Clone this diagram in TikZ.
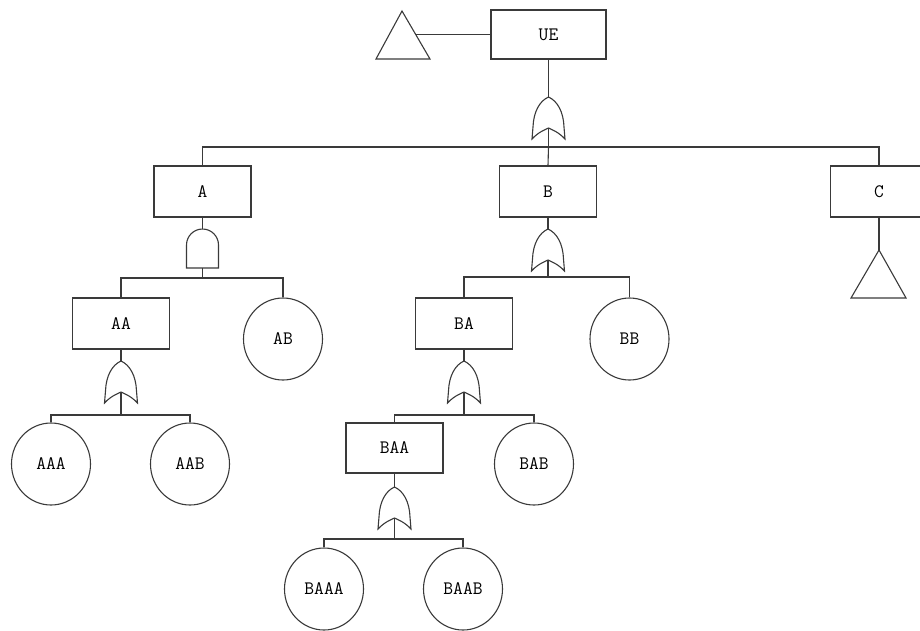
\documentclass[tikz,border=0pt]{standalone}
\usetikzlibrary{shapes.geometric}
\definecolor{ink}{HTML}{3A3A3A}
\tikzset{
  wire/.style={draw=ink, line width=1.1pt},
  lbl/.style={font=\ttfamily\fontsize{19}{21}\selectfont, text=black},
  event/.style={rectangle, wire, lbl, minimum width=97pt, minimum height=51pt, inner sep=0pt},
  basic/.style={ellipse, wire, lbl, minimum width=79pt, minimum height=82pt, inner sep=0pt},
  orgate/.pic={
    \draw[wire, fill=white] (0,0) .. controls (9,-4) and (15,-15) .. (15.5,-30) -- (16.5,-42)
      .. controls (10,-35) and (4,-33) .. (0,-31)
      .. controls (-4,-33) and (-10,-35) .. (-16.5,-42) -- (-15.5,-30)
      .. controls (-15,-15) and (-9,-4) .. (0,0) -- cycle;
    \coordinate (-in) at (0,0);
    \coordinate (-out) at (0,-31);
  },
  andgate/.pic={
    \draw[wire, fill=white] (-16,-39) -- (-16,-16) arc[start angle=180, end angle=0, radius=16pt]
      -- (16,-39) -- cycle;
    \coordinate (-in) at (0,0);
    \coordinate (-out) at (0,-39);
  }
}
\begin{document}
\begin{tikzpicture}[x=1pt, y=1pt]
\useasboundingbox (0,0) rectangle (920,-630);

% events
\node[event, minimum width=115pt, minimum height=49pt] (UE) at (548.5,-34.5) {UE};
\node[event] (A) at (202.5,-191.5) {A};
\node[event] (B) at (548,-191.5) {B};
\node[event] (C) at (879,-191.5) {C};
\node[event] (AA) at (121,-323.5) {AA};
\node[event] (BA) at (464,-323.5) {BA};
\node[event, minimum height=50pt] (BAA) at (394.5,-448) {BAA};

% basic events
\node[basic] (AB) at (283,-339) {AB};
\node[basic] (BB) at (629.5,-339) {BB};
\node[basic] (AAA) at (51,-464) {AAA};
\node[basic] (AAB) at (190,-464) {AAB};
\node[basic] (BAB) at (534,-464) {BAB};
\node[basic] (BAAA) at (324,-589) {BAAA};
\node[basic] (BAAB) at (463,-589) {BAAB};

% transfer triangles
\draw[wire] (376,-59) -- (402,-11) -- (430,-59) -- cycle;
\coordinate (tUE) at (415.7,-34.5);
\draw[wire] (851,-298) -- (879,-250) -- (906,-298) -- cycle;
\coordinate (tC) at (879,-250);

% gates
\pic (gUE) at (548.5,-97) {orgate};
\pic (gA) at (202.5,-229) {andgate};
\pic (gB) at (548,-229) {orgate};
\pic (gAA) at (121,-361) {orgate};
\pic (gBA) at (464,-361) {orgate};
\pic (gBAA) at (394.5,-487) {orgate};

% bus junctions below the gates
\coordinate (jUE) at (548.5,-147);
\coordinate (jA) at (202.5,-278);
\coordinate (jB) at (548,-277);
\coordinate (jAA) at (121,-415);
\coordinate (jBA) at (464,-415);
\coordinate (jBAA) at (394.5,-539);

% connectors
\draw[wire] (tUE) -- (UE.west);
\draw[wire] (C.south) -- (tC);

\draw[wire] (UE.south) -- (gUE-in);
\draw[wire] (gUE-out) -- (jUE);
\draw[wire] (A.north) |- (jUE) -| (C.north);
\draw[wire] (jUE) -- (B.north);

\draw[wire] (A.south) -- (gA-in);
\draw[wire] (gA-out) -- (jA);
\draw[wire] (AA.north) |- (jA) -| (AB.north);

\draw[wire] (B.south) -- (gB-in);
\draw[wire] (gB-out) -- (jB);
\draw[wire] (BA.north) |- (jB) -| (BB.north);

\draw[wire] (AA.south) -- (gAA-in);
\draw[wire] (gAA-out) -- (jAA);
\draw[wire] (AAA.north) |- (jAA) -| (AAB.north);

\draw[wire] (BA.south) -- (gBA-in);
\draw[wire] (gBA-out) -- (jBA);
\draw[wire] (BAA.north) |- (jBA) -| (BAB.north);

\draw[wire] (BAA.south) -- (gBAA-in);
\draw[wire] (gBAA-out) -- (jBAA);
\draw[wire] (BAAA.north) |- (jBAA) -| (BAAB.north);
\end{tikzpicture}
\end{document}
